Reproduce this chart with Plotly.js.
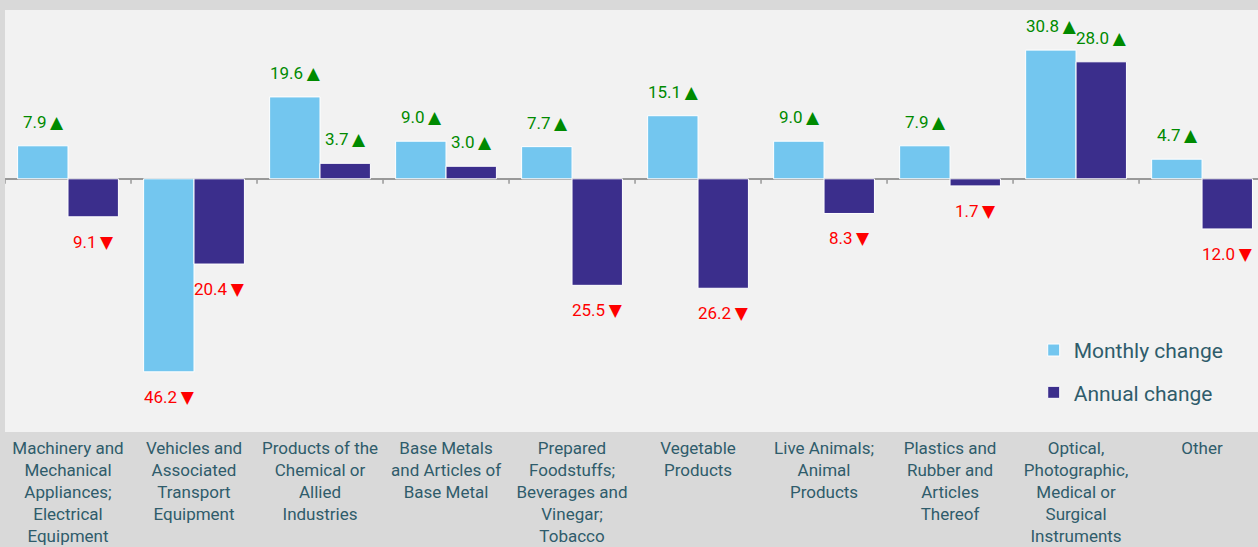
<!DOCTYPE html>
<html>
<head>
<meta charset="utf-8">
<script src="https://cdn.plot.ly/plotly-3.0.1.min.js"></script>
<style>html,body{margin:0;padding:0;background:#d9d9d9;}#chart{width:1258px;height:547px;}</style>
</head>
<body>
<div id="chart"></div>
<script>
const categories = ["Machinery", "Vehicles", "Chemical", "Base Metals", "Foodstuffs", "Vegetable", "Animals", "Plastics", "Optical", "Other"];
const tickLabels = [
  "Machinery and<br>Mechanical<br>Appliances;<br>Electrical<br>Equipment",
  "Vehicles and<br>Associated<br>Transport<br>Equipment",
  "Products of the<br>Chemical or<br>Allied<br>Industries",
  "Base Metals<br>and Articles of<br>Base Metal",
  "Prepared<br>Foodstuffs;<br>Beverages and<br>Vinegar;<br>Tobacco",
  "Vegetable<br>Products",
  "Live Animals;<br>Animal<br>Products",
  "Plastics and<br>Rubber and<br>Articles<br>Thereof",
  "Optical,<br>Photographic,<br>Medical or<br>Surgical<br>Instruments",
  "Other"
];
const monthlyChange = [7.9, -46.2, 19.6, 9.0, 7.7, 15.1, 9.0, 7.9, 30.8, 4.7];
const annualChange = [-9.1, -20.4, 3.7, 3.0, -25.5, -26.2, -8.3, -1.7, 28.0, -12.0];
const seriesNames = ["Monthly change", "Annual change"];

const textColor = "#2f5c6b";
const font = "Roboto, 'Noto Sans', sans-serif";

const traces = [
  {type: "bar", name: seriesNames[0], x: categories, y: monthlyChange,
   marker: {color: "#73c6ef", line: {color: "#ffffff", width: 1}}, legendgroup: "a", hoverinfo: "none"},
  {type: "bar", name: seriesNames[1], x: categories, y: annualChange,
   marker: {color: "#3b2e8c", line: {color: "#ffffff", width: 1}}, legendgroup: "b", hoverinfo: "none"}
];

const annotations = [];
[monthlyChange, annualChange].forEach((series, s) => {
  series.forEach((v, i) => {
    const pos = v >= 0;
    annotations.push({
      x: categories[i], y: v, xref: "x", yref: "y",
      xshift: s === 0 ? -25 : 25, yshift: pos ? 24 : -25,
      text: Math.abs(v).toFixed(1) + "\u2009<span style=\"font-family:'DejaVu Sans';font-size:17px\">" + (pos ? "▲" : "▼") + "</span>",
      showarrow: false, xanchor: "center", yanchor: "middle",
      font: {family: font, size: 17, color: pos ? "#008a00" : "#ff0000"}
    });
  });
});

const shapes = [];
for (let i = 0; i <= categories.length; i++) {
  shapes.push({type: "line", xref: "x", yref: "y", ysizemode: "pixel", yanchor: 0,
    x0: i - 0.5, x1: i - 0.5, y0: 0, y1: -5, line: {color: "#999999", width: 1.5}});
}

const layout = {
  width: 1258, height: 547,
  margin: {l: 5, r: 0, t: 10, b: 115},
  paper_bgcolor: "#d9d9d9",
  plot_bgcolor: "#f2f2f2",
  barmode: "group", bargap: 0.2, bargroupgap: 0,
  showlegend: true,
  legend: {x: 0.821, y: 0.242, xanchor: "left", yanchor: "top", bgcolor: "rgba(0,0,0,0)",
           font: {family: font, size: 21, color: textColor}, tracegroupgap: 12, traceorder: "grouped"},
  xaxis: {type: "category", tickvals: categories, ticktext: tickLabels, ticks: "", showgrid: false,
          showline: false, zeroline: false, ticklabelstandoff: 4,
          tickfont: {family: font, size: 17, color: textColor}, range: [-0.5, 9.444]},
  yaxis: {range: [-60.6, 40.4], showgrid: false, showticklabels: false, ticks: "",
          zeroline: true, zerolinecolor: "#999999", zerolinewidth: 2, showline: false},
  annotations: annotations,
  shapes: shapes
};

Plotly.newPlot("chart", traces, layout, {displayModeBar: false, staticPlot: true});
</script>
</body>
</html>
